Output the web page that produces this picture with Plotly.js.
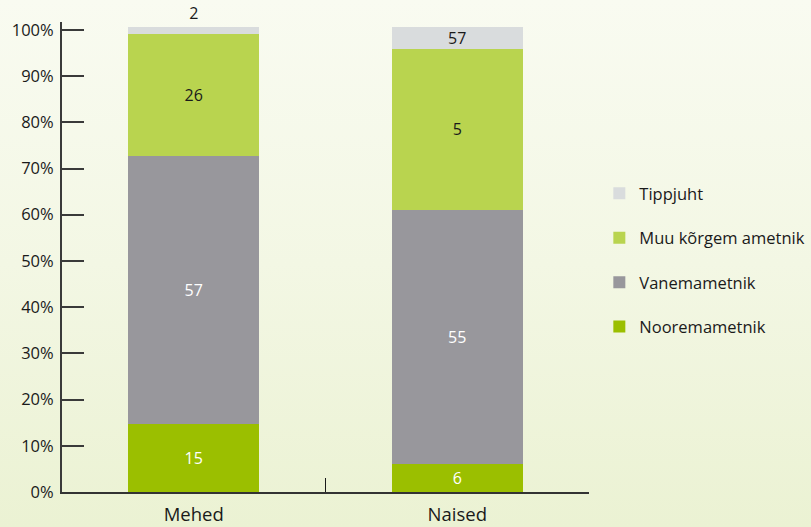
<!DOCTYPE html>
<html>
<head>
<meta charset="utf-8">
<script src="https://cdn.plot.ly/plotly-3.0.1.min.js"></script>
<style>
  html, body { margin: 0; padding: 0; }
  body { width: 811px; height: 527px; background: linear-gradient(to bottom, #f9fbf1 0%, #f3f7e4 50%, #ebf2d3 100%); }
  #chart { width: 811px; height: 527px; }
</style>
</head>
<body>
<div id="chart"></div>
<script>
// Categories
const categories = ['Mehed', 'Naised'];

// Series values (bar heights, % of axis)
const nooremametnik = [14.7, 6.0];
const vanemametnik = [58.0, 55.1];
const muuKorgem = [26.4, 34.8];
const tippjuht = [1.5, 4.7];

// Printed labels (as shown in the source)
const nooremLabels = ['15', '6'];
const vanemLabels = ['57', '55'];
const muuLabels = ['26', '5'];
const tippLabels = ['2', '57'];

// Y tick labels
const yTickVals = [0, 10, 20, 30, 40, 50, 60, 70, 80, 90, 100];
const yTickText = yTickVals.map(v => v + '%');

const FONT = 'Open Sans, Noto Sans, sans-serif';

function series(name, y, text, color, txtColor, rank, pos) {
  return {
    type: 'bar', name: name, x: categories, y: y, text: text,
    textposition: pos || 'inside', insidetextanchor: 'middle', textangle: 0,
    insidetextfont: {family: FONT, size: 16, color: txtColor},
    outsidetextfont: {family: FONT, size: 16, color: '#1a1a1a'},
    constraintext: 'none', cliponaxis: false,
    marker: {color: color, line: {width: 0}},
    legendgroup: name, legendrank: rank, hoverinfo: 'skip'
  };
}

const data = [
  series('Nooremametnik', nooremametnik, nooremLabels, '#9bbf00', '#ffffff', 4),
  series('Vanemametnik', vanemametnik, vanemLabels, '#98979c', '#ffffff', 3),
  series('Muu kõrgem ametnik', muuKorgem, muuLabels, '#b9d44f', '#1a1a1a', 2),
  series('Tippjuht', tippjuht, tippLabels, '#d9dcdd', '#1a1a1a', 1, ['outside', 'inside']),
  // invisible helper trace for the category divider axis
  {type: 'scatter', x: [0.5], y: [0], xaxis: 'x2', mode: 'markers', marker: {opacity: 0}, showlegend: false, hoverinfo: 'skip'}
];

const layout = {
  width: 811, height: 527,
  paper_bgcolor: 'rgba(0,0,0,0)', plot_bgcolor: 'rgba(0,0,0,0)',
  margin: {l: 62, r: 221.5, t: 21.7, b: 35.3, pad: 0},
  barmode: 'stack', bargap: 0.504,
  font: {family: FONT, color: '#1a1a1a'},
  xaxis: {
    type: 'category', range: [-0.5, 1.5], showgrid: false, zeroline: false,
    showline: true, linecolor: '#333333', linewidth: 2, ticks: '',
    ticklabelstandoff: 5,
    tickfont: {family: FONT, size: 18.5, color: '#1a1a1a'}
  },
  xaxis2: {
    overlaying: 'x', anchor: 'y', side: 'bottom', range: [-0.5, 1.5],
    tickmode: 'array', tickvals: [0.5], ticks: 'inside', ticklen: 14, tickwidth: 1.3,
    tickcolor: '#1a1a1a', showticklabels: false, showgrid: false, zeroline: false, showline: false
  },
  yaxis: {
    range: [0, 101.7], tickmode: 'array', tickvals: yTickVals, ticktext: yTickText,
    ticks: 'inside', ticklen: 22, tickwidth: 2, tickcolor: '#3a3a3a',
    showline: true, linecolor: '#3a3a3a', linewidth: 2,
    showgrid: false, zeroline: false, ticklabelstandoff: 3,
    tickfont: {family: FONT, size: 16.5, color: '#1a1a1a'}
  },
  showlegend: true,
  legend: {
    xref: 'container', yref: 'container',
    x: 0.739, xanchor: 'left', y: 0.666, yanchor: 'top',
    traceorder: 'grouped', tracegroupgap: 20,
    font: {family: FONT, size: 16.5, color: '#1a1a1a'},
    bgcolor: 'rgba(0,0,0,0)'
  }
};

Plotly.newPlot('chart', data, layout, {displayModeBar: false, staticPlot: true});
</script>
</body>
</html>
